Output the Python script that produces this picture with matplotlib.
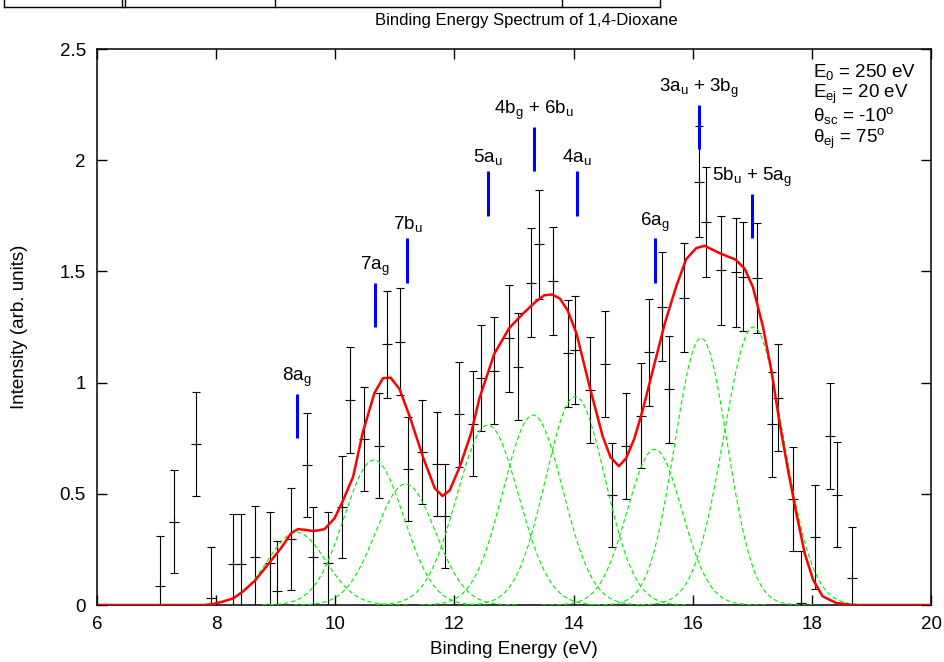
import numpy as np
import matplotlib
matplotlib.use('Agg')
import matplotlib.pyplot as plt
from matplotlib.lines import Line2D
from matplotlib.ticker import FormatStrFormatter

plt.rcParams['font.family'] = ['Liberation Sans', 'DejaVu Sans']
plt.rcParams['mathtext.default'] = 'regular'
plt.rcParams['font.size'] = 13.5

# measured points: binding energy (eV), intensity, error
energy = [7.05, 7.30, 7.67, 7.92, 8.28, 8.41, 8.65, 8.90, 9.02, 9.26, 9.52, 9.63,
          9.87, 10.11, 10.25, 10.48, 10.73, 10.86, 11.09, 11.22, 11.46, 11.71, 11.84, 12.07,
          12.32, 12.44, 12.67, 12.92, 13.06, 13.29, 13.42, 13.66, 13.90, 14.03, 14.27, 14.52,
          14.65, 14.88, 15.14, 15.26, 15.49, 15.61, 15.86, 16.10, 16.23, 16.48, 16.72, 16.84,
          17.08, 17.33, 17.44, 17.69, 17.81, 18.06, 18.30, 18.42, 18.67]
intensity = [0.085, 0.375, 0.724, 0.03, 0.185, 0.185, 0.217, 0.19, 0.064, 0.297, 0.63, 0.214,
             0.19, 0.442, 0.922, 0.746, 0.716, 1.172, 1.184, 0.61, 0.687, 0.633, 0.40, 0.857,
             0.814, 1.019, 1.054, 1.199, 1.072, 1.45, 1.622, 1.458, 1.132, 1.147, 0.967, 1.084,
             0.495, 0.716, 0.85, 1.136, 1.341, 0.97, 1.382, 1.903, 1.724, 1.506, 1.496, 1.476,
             1.469, 0.812, 0.933, 0.477, 0.008, 0.304, 0.76, 0.495, 0.123]
error = [0.225, 0.23, 0.235, 0.23, 0.225, 0.225, 0.228, 0.23, 0.226, 0.23, 0.235, 0.226,
         0.23, 0.23, 0.237, 0.235, 0.236, 0.24, 0.24, 0.234, 0.235, 0.233, 0.233, 0.236,
         0.236, 0.238, 0.24, 0.241, 0.239, 0.244, 0.244, 0.243, 0.24, 0.241, 0.239, 0.24,
         0.232, 0.238, 0.236, 0.242, 0.244, 0.24, 0.244, 0.25, 0.247, 0.245, 0.245, 0.246,
         0.248, 0.237, 0.24, 0.235, 0.235, 0.234, 0.24, 0.236, 0.229]

# total fit (red curve)
fit_e = [6.0, 7.8, 7.95, 8.12, 8.29, 8.45, 8.65, 8.90, 9.10, 9.26, 9.37, 9.50, 9.63, 9.82,
         9.99, 10.13, 10.30, 10.46, 10.66, 10.80, 10.93, 11.08, 11.25, 11.47, 11.67, 11.80,
         11.92, 12.09, 12.28, 12.42, 12.67, 12.92, 13.15, 13.37, 13.51, 13.64, 13.77, 13.90,
         14.05, 14.27, 14.49, 14.62, 14.76, 14.88, 15.02, 15.16, 15.33, 15.53, 15.72, 15.89,
         16.06, 16.20, 16.45, 16.72, 16.87, 17.01, 17.18, 17.32, 17.46, 17.60, 17.74, 17.88,
         18.02, 18.18, 18.41, 18.69, 20.0]
fit_i = [0.0, 0.0, 0.004, 0.016, 0.03, 0.061, 0.109, 0.192, 0.26, 0.323, 0.341, 0.338, 0.332, 0.341,
         0.391, 0.47, 0.577, 0.775, 0.955, 1.02, 1.022, 0.97, 0.847, 0.667, 0.525, 0.49,
         0.515, 0.622, 0.772, 0.93, 1.13, 1.245, 1.31, 1.365, 1.393, 1.396, 1.378, 1.325,
         1.22, 0.981, 0.757, 0.665, 0.624, 0.659, 0.748, 0.876, 1.055, 1.265, 1.43, 1.555,
         1.605, 1.615, 1.582, 1.553, 1.513, 1.43, 1.25, 1.055, 0.816, 0.606, 0.412, 0.232,
         0.114, 0.039, 0.009, 0.0, 0.0]

# gaussian components (green): centre, height, sigma
peak_pos = [9.35, 10.65, 11.18, 12.56, 13.32, 14.03, 15.36, 16.14, 17.02]
peak_height = [0.327, 0.652, 0.544, 0.809, 0.854, 0.937, 0.70, 1.20, 1.25]
peak_sigma = [0.49, 0.50, 0.50, 0.52, 0.50, 0.50, 0.46, 0.44, 0.50]

# orbital assignments (blue markers)
orbitals = ['8a$_g$', '7a$_g$', '7b$_u$', '5a$_u$', '4b$_g$ + 6b$_u$', '4a$_u$',
            '6a$_g$', '3a$_u$ + 3b$_g$', '5b$_u$ + 5a$_g$']
marker_pos = [9.36, 10.66, 11.21, 12.56, 13.34, 14.05, 15.37, 16.10, 16.99]
marker_low = [0.75, 1.25, 1.45, 1.75, 1.95, 1.75, 1.45, 2.05, 1.65]
marker_high = [0.95, 1.45, 1.65, 1.95, 2.15, 1.95, 1.65, 2.25, 1.85]

conditions = ['E$_0$ = 250 eV', 'E$_{ej}$ = 20 eV', 'θ$_{sc}$ = -10$^o$', 'θ$_{ej}$ = 75$^o$']

W, H = 945, 662
fig = plt.figure(figsize=(W / 100, H / 100), dpi=100)
ax = fig.add_axes([97 / W, 57 / H, 834 / W, 556 / H])

ax.errorbar(energy, intensity, yerr=error, fmt='+', color='black', ms=7, mew=0.8,
            elinewidth=0.8, capsize=3, capthick=0.8, zorder=2)

xs = np.linspace(6, 20, 561)
for c, h, s in zip(peak_pos, peak_height, peak_sigma):
    m = np.abs(xs - c) < 1.9
    ax.plot(xs[m], h * np.exp(-(xs[m] - c) ** 2 / (2 * s ** 2)), color='#00ee00',
            lw=0.8, dashes=(4, 2.5), zorder=3)

ax.plot(fit_e, fit_i, color='red', lw=1.8, zorder=4)

for name, x, lo, hi in zip(orbitals, marker_pos, marker_low, marker_high):
    ax.plot([x, x], [lo, hi], color='blue', lw=2.2, solid_capstyle='butt', zorder=5)
    ax.text(x, hi + 0.02, name, ha='center', va='bottom', fontsize=13.5, zorder=6)

ax.set_xlim(6, 20)
ax.set_ylim(0, 2.5)
ax.set_xticks(range(6, 21, 2))
ax.set_yticks([0, 0.5, 1, 1.5, 2, 2.5])
ax.yaxis.set_major_formatter(FormatStrFormatter('%g'))
ax.tick_params(direction='in', length=7, width=1, top=True, right=True, pad=8, labelsize=13.5)
for sp in ax.spines.values():
    sp.set_linewidth(1.1)

for t, yb in zip(conditions, [77, 98, 121, 143]):
    fig.text(813 / W, 1 - yb / H, t, ha='left', va='baseline', fontsize=13.5)

fig.text(526 / W, 1 - 20 / H, 'Binding Energy Spectrum of 1,4-Dioxane', ha='center',
         va='center', fontsize=12)
fig.text(514 / W, 1 - 650 / H, 'Binding Energy (eV)', ha='center', va='center', fontsize=13.5)
fig.text(20 / W, 1 - 327 / H, 'Intensity (arb. units)', ha='center', va='center',
         rotation=90, fontsize=13.5)

# remains of a table border above the plot
tab_y = 1 - 7 / H
fig.add_artist(Line2D([4 / W, 660 / W], [tab_y, tab_y], color='black', lw=1))
for xv in [4, 122, 125, 275, 562, 660]:
    fig.add_artist(Line2D([xv / W, xv / W], [tab_y, 1.0], color='black', lw=1))

fig.savefig('out.png', dpi=100)
